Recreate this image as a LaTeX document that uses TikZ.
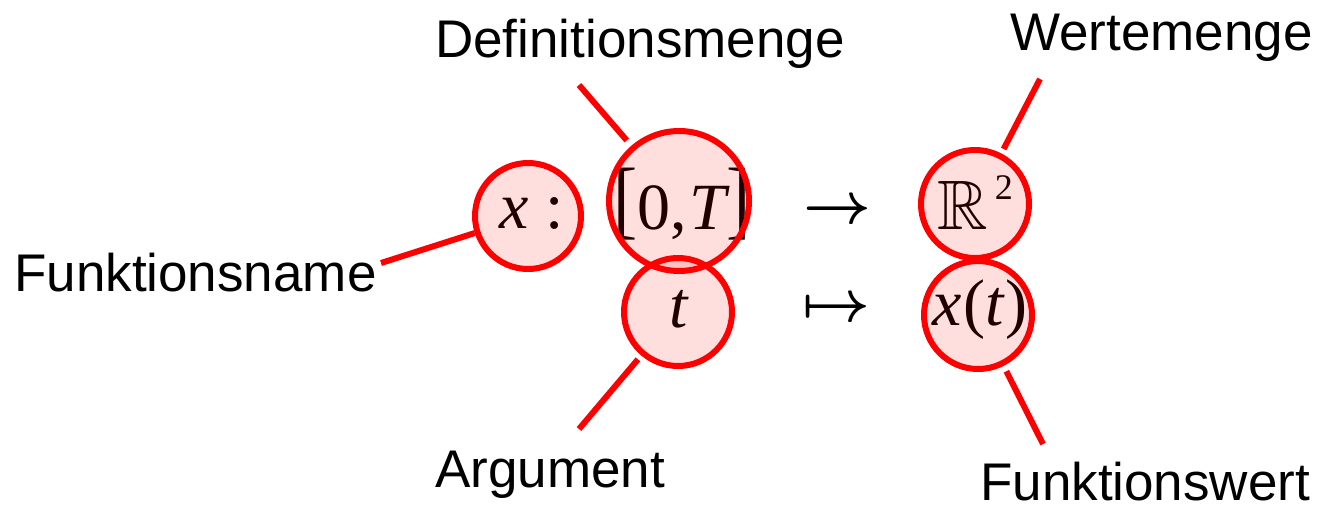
\documentclass[tikz,border=0pt]{standalone}
\usepackage{amssymb}
\usepackage{graphicx}
\usepackage{fontspec}
\setmainfont{Liberation Sans}
\newfontfamily\tms{Liberation Serif}
\begin{document}
\begin{tikzpicture}[x=1pt,y=-1pt,
  bub/.style={circle, draw=red, line width=6pt, fill=red, fill opacity=0.13, draw opacity=1, inner sep=0pt},
  lab/.style={anchor=base west, inner sep=0pt, font=\fontsize{53}{60}\selectfont},
  conn/.style={draw=red, line width=6pt},
  mth/.style={anchor=base, inner sep=0pt, font=\tms\fontsize{66}{70}\selectfont},
  arr/.style={inner sep=0pt}]
\useasboundingbox (0,0) rectangle (1317,504);
% labels
\node[lab] (fname) at (14,291) {Funktionsname};
\node[lab] (defm) at (435,57) {Definitionsmenge};
\node[lab] (wert) at (1010,50) {Wertemenge};
\node[lab] (arg) at (435,487) {Argument};
\node[lab] (fwert) at (980,500) {Funktionswert};
% math
\node[mth] (tx) at (532,228) {\itshape x\upshape\ :};
\node[mth] (tint) at (682,229) {\raisebox{1pt}{\scalebox{1.1}[1.32]{[}}0,\hspace{2pt}{\itshape T}\raisebox{1pt}{\scalebox{1.1}[1.32]{]}}};
\node[mth] (tt) at (679,327) {\itshape t};
\node[mth] (tr) at (975,229) {\fontsize{70}{72}\selectfont$\mathbb{R}$\hspace{7pt}\raisebox{30pt}{\fontsize{36}{36}\selectfont 2}};
\node[mth] (txt) at (980,325) {{\itshape x}\hspace{1pt}(\hspace{1pt}{\itshape t}\hspace{1pt})};
\node[arr] (a1) at (837.5,212) {\scalebox{5.9}{\boldmath$\to$}};
\node[arr] (a2) at (836,310) {\scalebox{5.9}{\boldmath$\mapsto$}};
% circles
\node[bub, minimum size=106pt] (c1) at (528,216) {};
\node[bub, minimum size=140pt] (c2) at (679,201) {};
\node[bub, minimum size=108pt] (c3) at (678,312) {};
\node[bub, minimum size=108pt] (c4) at (975,204) {};
\node[bub, minimum size=108pt] (c5) at (978,315) {};
% connectors
\coordinate (fnE) at (381,263);
\coordinate (dmE) at (579,85);
\coordinate (wmE) at (1040,79);
\coordinate (agE) at (579,429);
\coordinate (fwE) at (1043,444);
\draw[conn] (fnE) -- (c1);
\draw[conn, shorten >=7pt] (dmE) -- (c2);
\draw[conn, shorten >=5pt] (wmE) -- (c4);
\draw[conn, shorten >=5pt] (agE) -- (c3);
\draw[conn, shorten >=6pt] (fwE) -- (c5);
\end{tikzpicture}
\end{document}
